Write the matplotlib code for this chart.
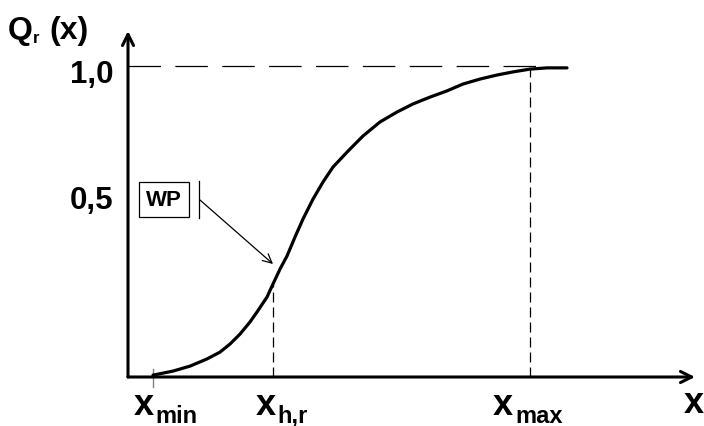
import numpy as np
import matplotlib
matplotlib.use('Agg')
import matplotlib.pyplot as plt

plt.rcParams['font.family'] = ['Liberation Sans', 'DejaVu Sans']
plt.rcParams['font.weight'] = 'bold'

# curve Q_r(x) (x in arbitrary units from the origin)
x_vals = [25, 45, 62, 79, 92, 102, 112, 122, 129, 139, 145, 152, 159, 167,
          175, 185, 195, 205, 219, 235, 252, 269, 285, 302, 319, 335, 352,
          369, 385, 402, 419, 439]
q_vals = [0.006, 0.019, 0.035, 0.058, 0.080, 0.106, 0.138, 0.177, 0.209,
          0.257, 0.299, 0.347, 0.389, 0.450, 0.508, 0.572, 0.627, 0.675,
          0.723, 0.775, 0.820, 0.852, 0.878, 0.900, 0.920, 0.942, 0.958,
          0.971, 0.981, 0.990, 0.994, 0.994]

x_min, x_hr, x_max = 25, 145, 402
q_hr, q_max = 0.299, 0.990
y_labels = ['1,0', '0,5']
y_label_pos = [0.975, 0.57]

W, H = 704, 427
fig = plt.figure(figsize=(W / 100, H / 100), dpi=100)
# origin of the drawing at pixel (128, 378)
ax = fig.add_axes([128 / W, 49 / H, (695 - 128) / W, (378 - 32) / H])
ax.set_xlim(0, 567)
ax.set_ylim(0, 346 / 311)
ax.axis('off')

def pt(px):
    return px * 72 / 100

# axes with arrows
arrow = dict(arrowstyle='->', lw=2.2, color='black', mutation_scale=20,
             shrinkA=0, shrinkB=0)
ax.annotate('', xy=(1, 0), xytext=(0, 0), xycoords='axes fraction', arrowprops=arrow)
ax.annotate('', xy=(0, 1), xytext=(0, 0), xycoords='axes fraction', arrowprops=arrow)

# the curve
ax.plot(x_vals, q_vals, color='black', lw=2.3, solid_capstyle='round',
        solid_joinstyle='round', zorder=3)

# dashed helpers
ax.plot([0, 417], [1.0, 1.0], color='black', lw=0.9, dashes=(26, 11.5))
ax.plot([x_hr, x_hr], [0, q_hr], color='black', lw=0.9, dashes=(8, 4))
ax.plot([x_max, x_max], [0, q_max], color='black', lw=0.9, dashes=(8, 4))

# little tick at x_min
ax.plot([x_min, x_min], [-10 / 311, 8 / 311], color='grey', lw=1, clip_on=False)

# y labels
for lab, yp in zip(y_labels, y_label_pos):
    ax.annotate(lab, xy=(0, yp), xytext=(pt(-15), 0), textcoords='offset points',
                ha='right', va='center', fontsize=22.5, fontweight='bold',
                annotation_clip=False)

# axis title Q_r (x)
fig.text(8 / W, 1 - 39 / H, 'Q', fontsize=23, fontweight='bold', ha='left', va='baseline')
fig.text(33 / W, 1 - 43 / H, 'r', fontsize=12, fontweight='bold', ha='left', va='baseline')
fig.text(49 / W, 1 - 39 / H, '(x)', fontsize=23, fontweight='bold', ha='left', va='baseline')

# x labels: (anchor, main offset px, sub text, sub offset px)
x_labels = [(x_min, -19, 'min', 2), (x_hr, -17, 'h,r', 4), (x_max, -37, 'max', -15)]
for xv, off, sub, soff in x_labels:
    ax.annotate('x', xy=(xv, 0), xytext=(pt(off), pt(-37)), textcoords='offset points',
                ha='left', va='baseline', fontsize=26, fontweight='bold',
                annotation_clip=False)
    ax.annotate(sub, xy=(xv, 0), xytext=(pt(soff), pt(-45)), textcoords='offset points',
                ha='left', va='baseline', fontsize=17, fontweight='bold',
                annotation_clip=False)
fig.text(684 / W, 1 - 413 / H, 'x', fontsize=26, fontweight='bold', ha='left', va='baseline')

# WP box with pointer to the inflection point
ax.text(164 - 128, (378 - 200.5) / 311, 'WP', ha='center', va='center',
        fontsize=16, fontweight='bold',
        bbox=dict(boxstyle='square,pad=0.3', fc='white', ec='black', lw=0.9))
ax.plot([199 - 128, 199 - 128], [(378 - 219) / 311, (378 - 182) / 311],
        color='black', lw=0.9)
ax.annotate('', xy=(x_hr, (378 - 265) / 311), xytext=(200 - 128, (378 - 201) / 311),
            arrowprops=dict(arrowstyle='->', lw=0.9, color='black', mutation_scale=16,
                            shrinkA=0, shrinkB=0))

fig.savefig('out.png', dpi=100)
